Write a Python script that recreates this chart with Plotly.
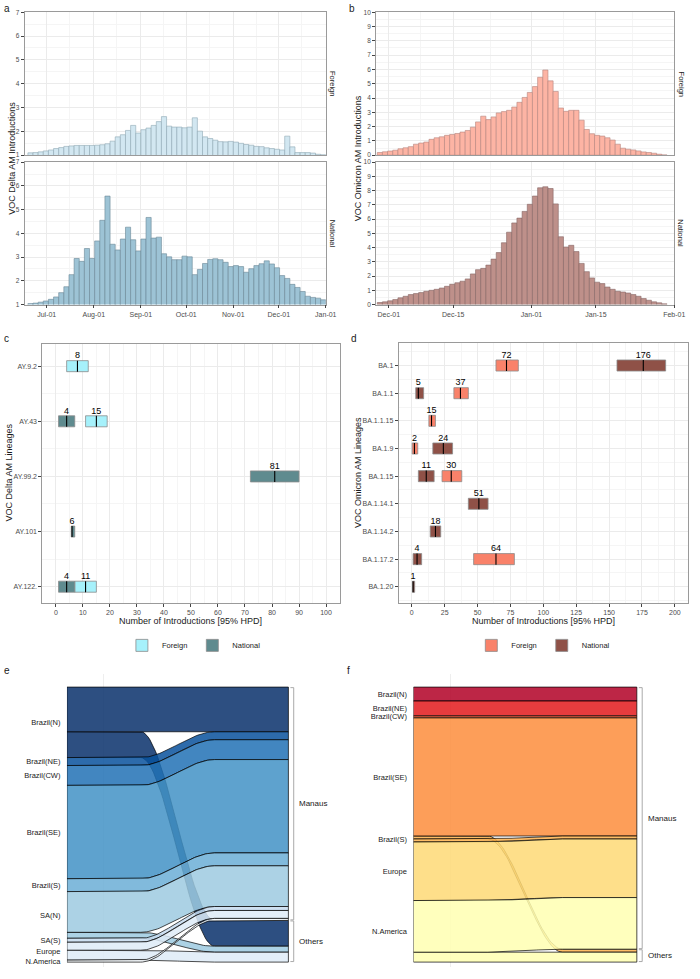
import numpy as np
import pandas as pd
import plotly.graph_objects as go

# ---------------- DATA ----------------
# Panel a: VOC Delta AM introductions per time bin (Foreign / National)
delta_bin_start = "2021-06-18 14:00"
delta_bin_end = "2022-01-01"
delta_foreign = [1.10, 1.11, 1.14, 1.18, 1.22, 1.28, 1.32, 1.37, 1.39, 1.41, 1.41, 1.41, 1.41, 1.42,
                 1.44, 1.48, 1.59, 1.77, 1.86, 2.04, 2.25, 1.93, 2.07, 2.14, 2.25, 2.41, 2.62, 2.22,
                 2.18, 2.18, 2.15, 2.18, 2.57, 2.01, 1.77, 1.70, 1.63, 1.57, 1.56, 1.58, 1.55, 1.50,
                 1.45, 1.42, 1.37, 1.36, 1.31, 1.28, 1.25, 1.22, 1.80, 1.35, 1.11, 1.11, 1.11, 1.09,
                 1.04, 1.02]
delta_national = [1.04, 1.06, 1.10, 1.15, 1.22, 1.32, 1.50, 1.75, 2.26, 2.94, 2.82, 3.36, 2.94, 3.68,
                  4.55, 5.57, 3.54, 3.30, 3.76, 4.26, 3.73, 3.26, 3.76, 4.67, 3.80, 3.84, 3.14, 3.01,
                  2.89, 2.89, 3.04, 3.01, 2.26, 2.48, 2.73, 2.90, 2.93, 2.89, 2.78, 2.60, 2.64, 2.60,
                  2.36, 2.51, 2.64, 2.72, 2.84, 2.71, 2.55, 2.22, 2.10, 1.85, 1.72, 1.55, 1.35, 1.30,
                  1.27, 1.20]
delta_month_ticks = ["2021-07-01", "2021-08-01", "2021-09-01", "2021-10-01", "2021-11-01",
                     "2021-12-01", "2022-01-01"]

# Panel b: VOC Omicron AM introductions per time bin
omicron_bin_start = "2021-11-28 12:00"
omicron_bin_end = "2022-01-30 10:00"
omicron_foreign = [0.19, 0.24, 0.29, 0.35, 0.45, 0.52, 0.60, 0.77, 0.85, 0.92, 1.11, 1.22, 1.29, 1.39,
                   1.45, 1.52, 1.62, 1.73, 1.96, 2.33, 2.73, 2.49, 2.68, 2.96, 3.05, 3.14, 3.37, 3.70,
                   4.04, 4.39, 4.80, 5.45, 5.96, 5.20, 4.46, 3.30, 3.07, 3.14, 3.14, 2.45, 1.80, 1.50,
                   1.39, 1.34, 1.22, 1.06, 0.77, 0.49, 0.42, 0.37, 0.30, 0.23, 0.19, 0.14, 0.07, 0.02]
omicron_national = [0.14, 0.19, 0.26, 0.35, 0.47, 0.58, 0.70, 0.77, 0.84, 0.93, 1.00, 1.07, 1.16, 1.28,
                    1.42, 1.53, 1.64, 1.80, 2.15, 2.45, 2.54, 2.77, 3.19, 3.65, 4.34, 5.08, 5.73, 6.07,
                    6.54, 7.04, 7.62, 8.20, 8.27, 8.15, 7.07, 4.76, 4.04, 4.16, 3.72, 2.89, 2.31, 1.87,
                    1.57, 1.47, 1.23, 1.07, 0.93, 0.88, 0.81, 0.70, 0.58, 0.42, 0.30, 0.19, 0.12, 0.05]
omicron_date_ticks = ["2021-12-01", "2021-12-15", "2022-01-01", "2022-01-15", "2022-02-01"]

# Panel c: Delta lineages, number of introductions (median, 95% HPD)
delta_lineages = ["AY.9.2", "AY.43", "AY.99.2", "AY.101", "AY.122."]
delta_f_med = [8, 15, None, None, 11]
delta_f_lo = [4, 11, None, None, 7]
delta_f_hi = [12, 19, None, None, 15]
delta_n_med = [None, 4, 81, 6, 4]
delta_n_lo = [None, 1, 72, 5.7, 1]
delta_n_hi = [None, 7, 90, 7, 7]

# Panel d: Omicron lineages
omicron_lineages = ["BA.1", "BA.1.1", "BA.1.1.15", "BA.1.9", "BA.1.15", "BA.1.14.1",
                    "BA.1.14.2", "BA.1.17.2", "BA.1.20"]
omicron_f_med = [72, 37, 15, 2, 30, None, None, 64, None]
omicron_f_lo = [64, 32, 13, 0.3, 23, None, None, 47, None]
omicron_f_hi = [81, 43, 18, 4.5, 38, None, None, 78, None]
omicron_n_med = [176, 5, None, 24, 11, 51, 18, 4, 1]
omicron_n_lo = [156, 3, None, 16, 5, 43, 14, 1, 0.5]
omicron_n_hi = [193, 9, None, 31, 17, 58, 22, 7.5, 2.2]

# Panel e: Delta flows source -> Manaus / Others
e_sources = ["Brazil(N)", "Brazil(NE)", "Brazil(CW)", "Brazil(SE)", "Brazil(S)",
             "SA(N)", "SA(S)", "Europe", "N.America"]
e_to_manaus = [45, 8, 20, 94, 13, 41, 4, 8, 2]
e_to_others = [26, 0, 0, 0, 0, 6, 0, 10, 0]
e_colors = ["#08306b", "#08519c", "#2171b5", "#4292c6", "#6baed6",
            "#9ecae1", "#c6dbef", "#deebf7", "#f7fbff"]
e_others_first = []

# Panel f: Omicron flows
f_sources = ["Brazil(N)", "Brazil(NE)", "Brazil(CW)", "Brazil(SE)", "Brazil(S)",
             "Europe", "N.America"]
f_to_manaus = [14, 15, 2, 119, 3, 59, 52]
f_to_others = [0, 0, 0, 0, 3, 0, 10]
f_colors = ["#b10026", "#e31a1c", "#fc4e2a", "#fd8d3c", "#feb24c", "#fed976", "#ffffb2"]
f_others_first = ["Brazil(S)"]
destinations = ["Manaus", "Others"]

# ---------------- STYLE ----------------
W, H = 700, 979
FONT = "Liberation Sans, Arial, sans-serif"
GRID = "#EBEBEB"
MINOR = "#F5F5F5"
BORDER = "#9A9A9A"
TICKC = "#4D4D4D"


def xd(a, b):
    return [a / W, b / W]


def yd(a, b):
    return [1 - b / H, 1 - a / H]


def fx(px):
    return px / W


def fy(py):
    return 1 - py / H


fig = go.Figure()


def hist_bars(values, start, end, xa, ya, fill, line):
    n = len(values)
    edges = pd.date_range(start, end, periods=n + 1)
    width = edges[1] - edges[0]
    centers = edges[:-1] + width / 2
    fig.add_trace(go.Bar(x=centers, y=values, width=width.total_seconds() * 1000,
                         marker=dict(color=fill, line=dict(color=line, width=0.6)),
                         xaxis=xa, yaxis=ya, showlegend=False, hoverinfo="x+y"))


hist_bars(delta_foreign, delta_bin_start, delta_bin_end, "x", "y", "#D2E7F1", "#8FA7B3")
hist_bars(delta_national, delta_bin_start, delta_bin_end, "x2", "y2", "#9DC3D5", "#6A8795")
hist_bars(omicron_foreign, omicron_bin_start, omicron_bin_end, "x3", "y3", "#FDB4A4", "#B5857D")
hist_bars(omicron_national, omicron_bin_start, omicron_bin_end, "x4", "y4", "#BE908A", "#876764")


def crossbar(names, med, lo, hi, w, fill, name, xa, ya, legend):
    idx = [i for i in range(len(names)) if med[i] is not None]
    fig.add_trace(go.Bar(orientation="h", y=idx, base=[lo[i] for i in idx],
                         x=[hi[i] - lo[i] for i in idx], width=w,
                         marker=dict(color=fill, line=dict(color="#8C8C8C", width=0.8)),
                         name=name, xaxis=xa, yaxis=ya, legend=legend, showlegend=True))
    xs, ys = [], []
    for i in idx:
        xs += [med[i], med[i], None]
        ys += [i - w / 2, i + w / 2, None]
    fig.add_trace(go.Scatter(x=xs, y=ys, mode="lines", line=dict(color="black", width=1.1),
                             xaxis=xa, yaxis=ya, showlegend=False, hoverinfo="skip"))
    fig.add_trace(go.Scatter(x=[med[i] for i in idx], y=[i - w / 2 for i in idx], mode="text",
                             text=[str(med[i]) for i in idx], textposition="top center",
                             textfont=dict(size=9, color="black", family=FONT),
                             xaxis=xa, yaxis=ya, showlegend=False, cliponaxis=False,
                             hoverinfo="skip"))


crossbar(delta_lineages, delta_f_med, delta_f_lo, delta_f_hi, 0.2, "#A6F1FB", "Foreign", "x5", "y5", "legend")
crossbar(delta_lineages, delta_n_med, delta_n_lo, delta_n_hi, 0.2, "#5F8B8F", "National", "x5", "y5", "legend")
crossbar(omicron_lineages, omicron_f_med, omicron_f_lo, omicron_f_hi, 0.4, "#F9826A", "Foreign", "x6", "y6", "legend2")
crossbar(omicron_lineages, omicron_n_med, omicron_n_lo, omicron_n_hi, 0.4, "#8F5147", "National", "x6", "y6", "legend2")


def rgba(hexc, a):
    h = hexc.lstrip("#")
    return "rgba(%d,%d,%d,%.2f)" % (int(h[0:2], 16), int(h[2:4], 16), int(h[4:6], 16), a)


def alluvial(sources, to_m, to_o, others_first, colors, xa, ya):
    vals = {"Manaus": to_m, "Others": to_o}
    total = sum(to_m) + sum(to_o)
    left, y = {}, 0
    centers = []
    for i, s in enumerate(sources):
        order = ["Others", "Manaus"] if s in others_first else ["Manaus", "Others"]
        y0 = y
        for d in order:
            v = vals[d][i]
            if v > 0:
                left[(i, d)] = (y, y + v)
                y += v
        centers.append((y0 + y) / 2)
    right, y = {}, 0
    dest_ext = {}
    for d in destinations:
        y0 = y
        for i in range(len(sources)):
            v = vals[d][i]
            if v > 0:
                right[(i, d)] = (y, y + v)
                y += v
        dest_ext[d] = (y0, y)
    xs = np.concatenate([[0.0], np.linspace(1 / 3, 2 / 3, 41), [1.0]])
    t = np.clip((xs - 1 / 3) * 3, 0, 1)
    s = t * t * (3 - 2 * t)
    for d in ["Others", "Manaus"]:
        for i in range(len(sources)):
            if (i, d) not in left:
                continue
            l0, l1 = left[(i, d)]
            r0, r1 = right[(i, d)]
            top = l0 + (r0 - l0) * s
            bot = l1 + (r1 - l1) * s
            px = np.concatenate([xs, xs[::-1], [xs[0]]])
            py = np.concatenate([top, bot[::-1], [top[0]]])
            fig.add_trace(go.Scatter(x=px, y=py, mode="lines", fill="toself",
                                     fillcolor=rgba(colors[i], 0.85),
                                     line=dict(color="black", width=0.7),
                                     xaxis=xa, yaxis=ya, showlegend=False, hoverinfo="skip"))
    # brackets for destination strata
    for d in destinations:
        a, b = dest_ext[d]
        a2, b2 = a + total * 0.002, b - total * 0.002
        fig.add_trace(go.Scatter(x=[1.009, 1.024, 1.024, 1.009], y=[a2, a2, b2, b2], mode="lines",
                                 line=dict(color="#A0A0A0", width=0.9), xaxis=xa, yaxis=ya,
                                 showlegend=False, hoverinfo="skip"))
        fig.add_annotation(x=1.04, y=(a + b) / 2, xref=xa, yref=ya, text=d, showarrow=False,
                           xanchor="left", yanchor="middle", font=dict(size=8, color="#1a1a1a"))
    return total, centers


e_total, e_centers = alluvial(e_sources, e_to_manaus, e_to_others, e_others_first, e_colors, "x7", "y7")
f_total, f_centers = alluvial(f_sources, f_to_manaus, f_to_others, f_others_first, f_colors, "x8", "y8")

# ---------------- LAYOUT ----------------
tickfont = dict(size=7, color=TICKC, family=FONT)
tickfont_small = dict(size=6.5, color=TICKC, family=FONT)


def frame(**kw):
    d = dict(showline=True, mirror=True, linecolor=BORDER, linewidth=0.8, ticks="outside",
             ticklen=3, tickwidth=0.6, tickcolor="#444", tickfont=tickfont, showgrid=True,
             gridcolor=GRID, gridwidth=0.8, zeroline=False)
    d.update(kw)
    return d


mid_months = ["2021-06-16", "2021-07-16", "2021-08-16", "2021-09-16", "2021-10-16", "2021-11-16",
              "2021-12-16"]
om_minor = ["2021-11-24", "2021-12-08", "2021-12-23", "2022-01-08", "2022-01-23"]

a_range = ["2021-06-16 10:00", "2022-01-01"]
b_range = ["2021-11-28 05:30", "2022-02-01"]

minor_a = dict(tickmode="array", tickvals=mid_months, showgrid=True, gridcolor=MINOR, gridwidth=0.6, ticks="")
minor_b = dict(tickmode="array", tickvals=om_minor, showgrid=True, gridcolor=MINOR, gridwidth=0.6, ticks="")
minor_y = dict(dtick=0.5, showgrid=True, gridcolor=MINOR, gridwidth=0.6, ticks="")

TOP = (8.3, 152.3)
BOT = (159.3, 302.7)

layout = dict(
    width=W, height=H, margin=dict(l=0, r=0, t=0, b=0),
    paper_bgcolor="white", plot_bgcolor="white", barmode="overlay",
    font=dict(family=FONT, color="#1a1a1a"),
    xaxis=frame(domain=xd(25, 331), anchor="y", type="date", range=a_range,
                tickvals=delta_month_ticks, showticklabels=False, ticks="", minor=minor_a),
    yaxis=frame(domain=yd(*TOP), anchor="x", range=[1, 7], dtick=1, minor=minor_y,
                tickfont=tickfont_small),
    xaxis2=frame(domain=xd(25, 331), anchor="y2", type="date", range=a_range,
                 tickvals=delta_month_ticks, tickformat="%b-%d", minor=minor_a),
    yaxis2=frame(domain=yd(*BOT), anchor="x2", range=[1, 7], dtick=1, minor=minor_y,
                 tickfont=tickfont_small),
    xaxis3=frame(domain=xd(382, 685), anchor="y3", type="date", range=b_range,
                 tickvals=omicron_date_ticks, showticklabels=False, ticks="", minor=minor_b),
    yaxis3=frame(domain=yd(*TOP), anchor="x3", range=[0, 10], dtick=1, minor=minor_y,
                 tickfont=tickfont_small),
    xaxis4=frame(domain=xd(382, 685), anchor="y4", type="date", range=b_range,
                 tickvals=omicron_date_ticks, tickformat="%b-%d", minor=minor_b),
    yaxis4=frame(domain=yd(*BOT), anchor="x4", range=[0, 10], dtick=1, minor=minor_y,
                 tickfont=tickfont_small),
    xaxis5=frame(domain=xd(43, 345), anchor="y5", range=[-5, 105], dtick=10, tick0=0,
                 minor=dict(dtick=10, tick0=5, showgrid=True, gridcolor=MINOR, gridwidth=0.6, ticks="")),
    yaxis5=frame(domain=yd(342, 603), anchor="x5", range=[len(delta_lineages) - 1 + 0.29, -0.41],
                 tickmode="array", tickvals=list(range(len(delta_lineages))), ticktext=delta_lineages,
                 minor=dict(tickmode="array", tickvals=[i + 0.5 for i in range(-1, len(delta_lineages))],
                            showgrid=True, gridcolor=MINOR, gridwidth=0.6, ticks="")),
    xaxis6=frame(domain=xd(405, 699), anchor="y6", range=[-10, 210], dtick=25, tick0=0,
                 minor=dict(dtick=25, tick0=12.5, showgrid=True, gridcolor=MINOR, gridwidth=0.6, ticks="")),
    yaxis6=frame(domain=yd(341, 603), anchor="x6", range=[len(omicron_lineages) - 1 + 0.575, -0.83],
                 tickmode="array", tickvals=list(range(len(omicron_lineages))), ticktext=omicron_lineages,
                 minor=dict(tickmode="array", tickvals=[i + 0.5 for i in range(-1, len(omicron_lineages))],
                            showgrid=True, gridcolor=MINOR, gridwidth=0.6, ticks="")),
    xaxis7=dict(domain=xd(68, 345), anchor="y7", range=[0, (345 - 68) / (293 - 68)],
                tickmode="array", tickvals=[1 / 6], showticklabels=False, ticks="", showgrid=True,
                gridcolor="#EEEEEE", gridwidth=1, zeroline=False, showline=False),
    yaxis7=dict(domain=yd(675, 970), anchor="x7", range=[e_total * (1 + 5 / 277), -e_total * 13 / 277],
                tickmode="array", tickvals=e_centers, ticktext=e_sources, showgrid=False,
                zeroline=False, showline=False, ticks="outside", ticklen=4, tickcolor="rgba(0,0,0,0)",
                tickfont=dict(size=7.5, color="#1a1a1a", family=FONT)),
    xaxis8=dict(domain=xd(420, 699), anchor="y8", range=[0, (699 - 420) / (647 - 420)],
                tickmode="array", tickvals=[1 / 6], showticklabels=False, ticks="", showgrid=True,
                gridcolor="#EEEEEE", gridwidth=1, zeroline=False, showline=False),
    yaxis8=dict(domain=yd(675, 970), anchor="x8", range=[f_total * (1 + 5 / 277), -f_total * 13 / 277],
                tickmode="array", tickvals=f_centers, ticktext=f_sources, showgrid=False,
                zeroline=False, showline=False, ticks="outside", ticklen=4, tickcolor="rgba(0,0,0,0)",
                tickfont=dict(size=7.5, color="#1a1a1a", family=FONT)),
    legend=dict(orientation="h", x=fx(197), xanchor="center", y=fy(646), yanchor="middle",
                font=dict(size=7.5, color="#1a1a1a"), bgcolor="rgba(0,0,0,0)", itemwidth=30,
                traceorder="normal"),
    legend2=dict(orientation="h", x=fx(552), xanchor="center", y=fy(646), yanchor="middle",
                 font=dict(size=7.5, color="#1a1a1a"), bgcolor="rgba(0,0,0,0)", itemwidth=30,
                 traceorder="normal"),
)
fig.update_layout(**layout)

# ---------------- TEXT ----------------
def ann(x, y, text, size=9, angle=0, xanchor="center", yanchor="middle", color="#1a1a1a"):
    fig.add_annotation(x=fx(x), y=fy(y), xref="paper", yref="paper", text=text, showarrow=False,
                       textangle=angle, xanchor=xanchor, yanchor=yanchor,
                       font=dict(size=size, color=color, family=FONT))


for lab, x, y in [("a", 2, 5), ("b", 353, 5), ("c", 2, 337), ("d", 355, 337), ("e", 2, 671), ("f", 351, 671)]:
    ann(x, y, lab, size=10, xanchor="left")

ann(12, 155, "VOC Delta AM Introductions", size=9, angle=-90)
ann(364, 155, "VOC Omicron AM Introductions", size=9, angle=-90)
ann(338, (TOP[0] + TOP[1]) / 2, "Foreign", size=7.5, angle=90)
ann(338, (BOT[0] + BOT[1]) / 2, "National", size=7.5, angle=90)
ann(692, (TOP[0] + TOP[1]) / 2, "Foreign", size=7.5, angle=90)
ann(692, (BOT[0] + BOT[1]) / 2, "National", size=7.5, angle=90)
ann(9, 472, "VOC Delta AM Lineages", size=9, angle=-90)
ann(363, 472, "VOC Omicron AM Lineages", size=9, angle=-90)
ann(194, 621, "Number of Introductions [95% HPD]", size=9)
ann(552, 621, "Number of Introductions [95% HPD]", size=9)

fig.write_html("out.html", config={"displayModeBar": False},
               post_script="document.body.style.margin='0px';document.body.style.overflow='hidden';")
